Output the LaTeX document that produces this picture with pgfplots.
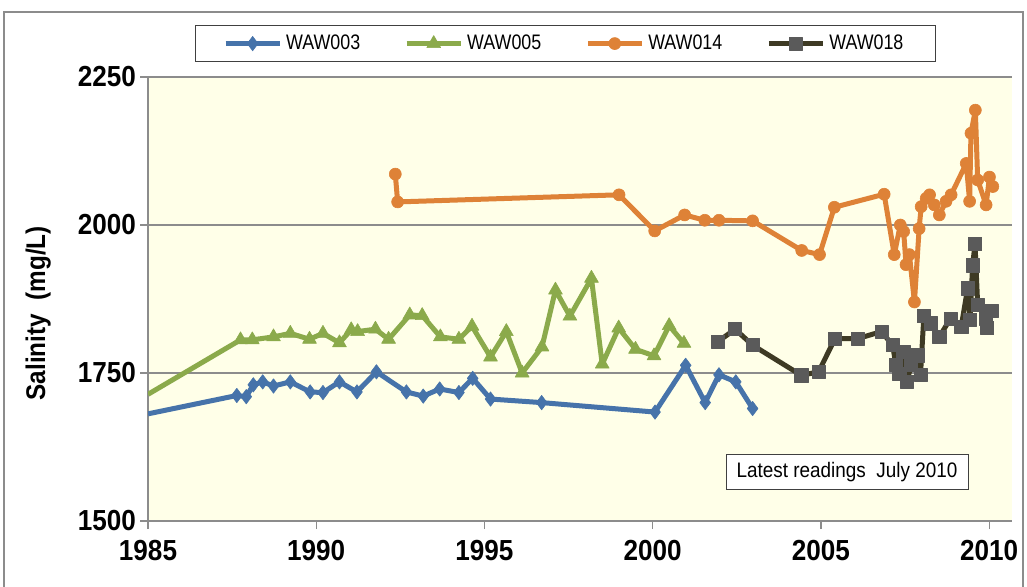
\documentclass[border=0pt]{standalone}
\usepackage{pgfplots}
\pgfplotsset{compat=1.18}
\usepackage{fontspec}
\setmainfont{Liberation Sans}
\newfontfamily\cond[FakeStretch=0.9]{Liberation Sans}
\newfontfamily\condl[FakeStretch=0.85]{Liberation Sans}
\definecolor{cA}{RGB}{70,115,170}
\definecolor{cB}{RGB}{139,170,75}
\definecolor{cC}{RGB}{222,130,55}
\definecolor{cDl}{RGB}{62,58,36}
\definecolor{cDm}{RGB}{90,90,90}
\definecolor{bgy}{RGB}{255,255,232}
\definecolor{gridg}{RGB}{140,140,140}
\begin{document}
\begin{tikzpicture}
\begin{axis}[
  at={(74pt,-260.5pt)}, anchor=south west,
  scale only axis, width=432pt, height=222pt,
  xmin=1985, xmax=2010.68, ymin=1500, ymax=2250,
  axis x line*=bottom, axis y line*=left,
  axis line style={gridg, line width=0.6pt},
  axis background/.style={fill=bgy},
  xtick={1985,1990,1995,2000,2005,2010},
  ytick={1500,1750,2000,2250},
  ymajorgrids, major grid style={gridg, line width=0.6pt},
  tick align=outside, major tick length=4pt,
  tick style={gridg, line width=0.6pt},
  /pgf/number format/assume math mode=true,
  /pgf/number format/set thousands separator={},
  ticklabel style={font=\cond\fontsize{14.5}{17}\selectfont\bfseries},
  xticklabel style={yshift=-2pt},
  yticklabel style={xshift=1.5pt},
  ylabel={Salinity\ \ (mg/L)},
  ylabel style={at={(axis description cs:-0.127,0.468)}, anchor=center, font=\cond\fontsize{13.5}{16}\selectfont\bfseries},
  clip=true,
  every axis plot/.append style={line join=round},
  legend style={at={(axis description cs:0.054,1.034)}, anchor=south west,
    legend columns=4, draw=black!75, fill=white, line width=0.5pt,
    font=\condl\fontsize{10.5}{12}\selectfont, inner xsep=14pt, inner ysep=2.5pt,
    /tikz/every even column/.append style={column sep=20pt}},
  legend image code/.code={\draw[#1,mark repeat=2,mark phase=2] plot coordinates {(0pt,0pt) (13.5pt,0pt) (27pt,0pt)};},
]
% lead-in segments (data before 1985 clipped)
\addplot[forget plot, color=cA, line width=2.5pt] coordinates {(1985,1681) (1987.64,1712)};
\addplot[forget plot, color=cB, line width=2.5pt] coordinates {(1985,1714) (1987.75,1806)};

\addplot[color=cA, line width=2.5pt, mark=diamond*, mark size=3.6pt, mark options={solid,line width=0.3pt}] coordinates {
(1987.64,1712) (1987.92,1710) (1988.13,1730) (1988.41,1735) (1988.73,1728)
(1989.23,1735) (1989.82,1718) (1990.20,1717) (1990.69,1735) (1991.21,1718)
(1991.79,1752) (1992.68,1718) (1993.18,1711) (1993.67,1723) (1994.24,1717)
(1994.65,1741) (1995.18,1706) (1996.70,1700) (2000.07,1684) (2000.98,1763)
(2001.56,1700) (2001.97,1747) (2002.47,1735) (2002.97,1690)};
\addlegendentry{WAW003}

\addplot[color=cB, line width=2.5pt, mark=triangle*, mark size=4pt, mark options={solid,line width=0.3pt}] coordinates {
(1987.75,1806) (1988.10,1806) (1988.73,1811) (1989.23,1817) (1989.80,1807)
(1990.20,1817) (1990.69,1801) (1991.04,1823) (1991.23,1820) (1991.76,1824)
(1992.15,1807) (1992.78,1848) (1993.15,1847) (1993.69,1811) (1994.24,1807)
(1994.63,1829) (1995.18,1777) (1995.65,1820) (1996.12,1750) (1996.71,1794)
(1997.11,1890) (1997.54,1846) (1998.18,1910) (1998.50,1765) (1998.99,1826)
(1999.49,1790) (2000.04,1779) (2000.49,1830) (2000.93,1800)};
\addlegendentry{WAW005}

\addplot[color=cC, line width=2.5pt, mark=*, mark size=3pt, mark options={solid,line width=0.3pt}] coordinates {
(1992.35,2086) (1992.42,2039) (1999.00,2051) (2000.06,1990) (2000.95,2017)
(2001.55,2008) (2001.97,2008) (2002.97,2007) (2004.43,1957) (2004.96,1950)
(2005.40,2030) (2006.88,2052) (2007.18,1950) (2007.36,2000) (2007.46,1989)
(2007.53,1933) (2007.63,1950) (2007.78,1870) (2007.92,1994) (2007.98,2031)
(2008.13,2045) (2008.23,2051) (2008.37,2034) (2008.52,2017) (2008.72,2040)
(2008.87,2051) (2009.32,2104) (2009.42,2040) (2009.46,2155) (2009.59,2194)
(2009.66,2076) (2009.91,2034) (2010.01,2081) (2010.11,2065)};
\addlegendentry{WAW014}

\addplot[color=cDl, line width=2.5pt, mark=square*, mark size=3.3pt, mark options={solid,fill=cDm,draw=cDm,line width=0.3pt}] coordinates {
(2001.94,1803) (2002.45,1824) (2002.97,1797) (2004.42,1746) (2004.93,1752)
(2005.42,1808) (2006.09,1808) (2006.80,1820) (2007.13,1797) (2007.23,1764)
(2007.33,1749) (2007.45,1786) (2007.56,1735) (2007.68,1764) (2007.88,1780)
(2007.96,1747) (2008.06,1846) (2008.27,1834) (2008.52,1811) (2008.85,1842)
(2009.17,1828) (2009.36,1893) (2009.43,1840) (2009.51,1932) (2009.58,1968)
(2009.66,1865) (2009.91,1842) (2009.94,1826) (2010.08,1855)};
\addlegendentry{WAW018}
\end{axis}
\node[draw=black!75, line width=0.5pt, fill=white, minimum width=121pt, minimum height=17.5pt, inner sep=0pt, font=\cond\fontsize{10.5}{12}\selectfont] at (423.5pt,-236pt) {Latest readings\ \ July 2010};
\draw[gridg, line width=0.8pt] (2pt,-6pt) rectangle (511.5pt,-310pt);
\pgfresetboundingbox
\useasboundingbox (0pt,0pt) rectangle (513.5pt,-293.5pt);
\end{tikzpicture}
\end{document}
